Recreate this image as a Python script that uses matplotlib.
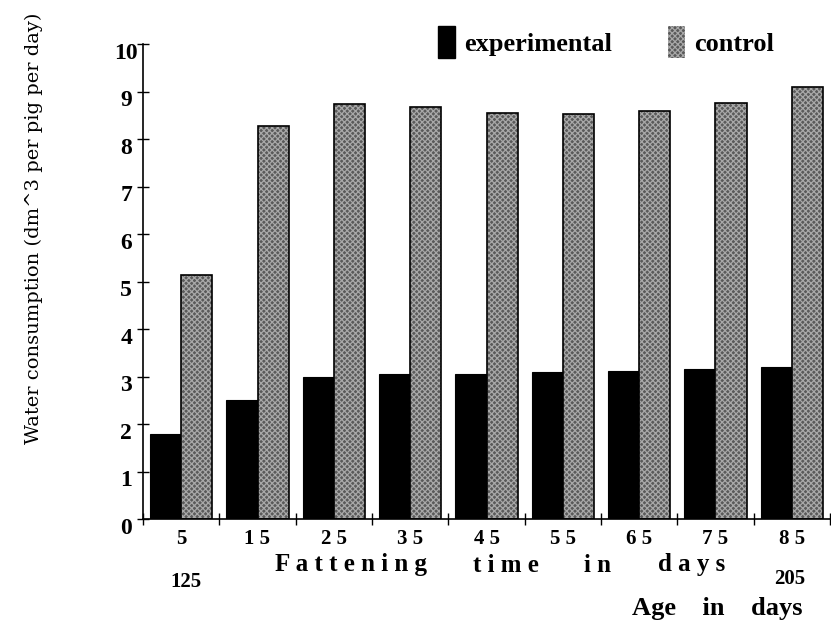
import matplotlib.pyplot as plt
import matplotlib.transforms as mtransforms
from matplotlib.patches import Patch

# fattening days and water consumption (dm^3 per pig per day)
dias = ["5", "1 5", "2 5", "3 5", "4 5", "5 5", "6 5", "7 5", "8 5"]
experimental = [1.78, 2.50, 3.00, 3.05, 3.05, 3.09, 3.12, 3.16, 3.21]
control = [5.13, 8.27, 8.74, 8.67, 8.55, 8.53, 8.60, 8.75, 9.09]
yticks = [0, 1, 2, 3, 4, 5, 6, 7, 8, 9, 10]

SERIF = ["Liberation Serif", "DejaVu Serif"]
CINZA = "#5a5a5a"
PONTO = "#a8a8a8"

plt.rcParams["hatch.linewidth"] = 0.9

fig = plt.figure(figsize=(8.31, 6.29), dpi=100)
ax = fig.add_axes([143 / 831, 110 / 629, 687 / 831, 475 / 629])

xs = list(range(len(dias)))
w = 0.41
x_exp = [x - w / 2 for x in xs]
x_ctl = [x + w / 2 for x in xs]

ax.bar(x_exp, experimental, width=w, color="black", edgecolor="black", linewidth=0.8)
# control: dithered grey fill, then black outline on top
ax.bar(x_ctl, control, width=w, color=CINZA, edgecolor=PONTO, hatch="xxxxxx", linewidth=0)
ax.bar(x_ctl, control, width=w, fill=False, edgecolor="black", linewidth=1.2)

ax.set_xlim(-0.5, len(dias) - 0.5)
ax.set_ylim(0, 10)

for s in ["top", "right"]:
    ax.spines[s].set_visible(False)
ax.spines["left"].set_linewidth(1.2)
ax.spines["bottom"].set_linewidth(1.2)

ax.set_yticks(yticks)
ax.set_yticklabels([str(v) for v in yticks], fontfamily=SERIF, fontweight="bold",
                   fontsize=17, ha="center")
ax.tick_params(axis="y", direction="inout", length=8, width=1, pad=8)
off = mtransforms.ScaledTranslation(0, -5 / 72, fig.dpi_scale_trans)
for lab in ax.get_yticklabels():
    lab.set_transform(lab.get_transform() + off)

ax.set_xticks(xs)
ax.set_xticklabels(dias, fontfamily=SERIF, fontweight="bold", fontsize=15)
ax.tick_params(axis="x", which="major", length=0, pad=7)
ax.set_xticks([x + 0.5 for x in range(-1, len(dias))], minor=True)
ax.tick_params(axis="x", which="minor", direction="inout", length=9, width=1)

fig.text(34 / 831, 1 - 228 / 629, "Water consumption (dm^3 per pig per day)", rotation=90,
         ha="center", va="center", fontfamily=["DejaVu Serif"], fontsize=14)

# x-axis title, letter-spaced words
palavras = [("F a t t e n i n g", 351), ("t i m e", 506), ("i n", 598), ("d a y s", 692)]
for pal, cx in palavras:
    fig.text(cx / 831, 1 - 565 / 629, pal, ha="center", va="center",
             fontfamily=SERIF, fontweight="bold", fontsize=18)

fig.text(186 / 831, 1 - 582 / 629, "125", ha="center", va="center",
         fontfamily=SERIF, fontweight="bold", fontsize=15)
fig.text(790 / 831, 1 - 579 / 629, "205", ha="center", va="center",
         fontfamily=SERIF, fontweight="bold", fontsize=15)
fig.text(717 / 831, 1 - 609 / 629, "Age    in    days", ha="center", va="center",
         fontfamily=SERIF, fontweight="bold", fontsize=19)

handles = [Patch(facecolor="black", edgecolor="black"),
           Patch(facecolor=CINZA, edgecolor=PONTO, hatch="xxxxxx", linewidth=0)]
ax.legend(handles, ["experimental", "control"], ncol=2, frameon=False,
          loc="center", bbox_to_anchor=(606 / 831, 1 - 42 / 629),
          bbox_transform=fig.transFigure, handlelength=0.65, handleheight=1.5,
          handletextpad=0.35, columnspacing=2.1,
          prop={"family": SERIF, "weight": "bold", "size": 19})

fig.savefig("out.png", dpi=100)
